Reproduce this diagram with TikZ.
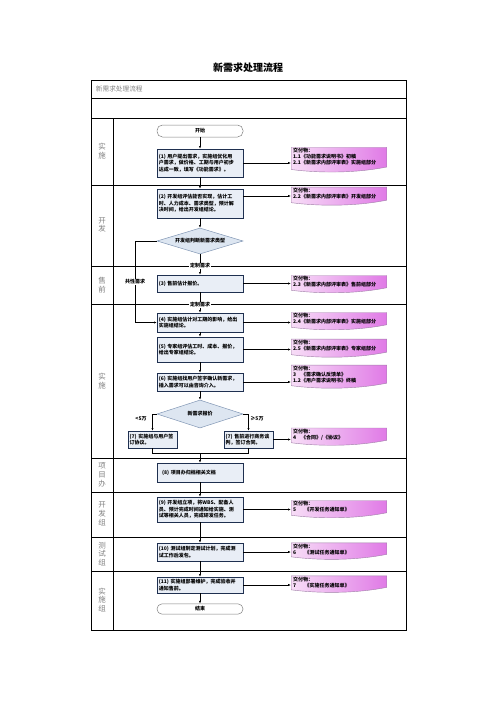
\documentclass[tikz,border=0pt]{standalone}
\usepackage{fontspec}
\setmainfont{Noto Sans CJK SC}
\usetikzlibrary{arrows.meta,shapes.geometric,calc}
\definecolor{boxfill}{HTML}{E9EEF6}
\definecolor{boxdraw}{HTML}{1F3050}
\definecolor{diafill}{HTML}{DDE6F1}
\definecolor{diadraw}{HTML}{8096B4}
\definecolor{delL}{HTML}{F7DDF7}
\definecolor{delR}{HTML}{E07AE6}
\definecolor{delB}{HTML}{A080A8}
\definecolor{lanegray}{HTML}{808080}
\newcommand{\dlv}[2]{\parbox[t][#1][t]{110pt}{\raggedright #2}}
\begin{document}
\begin{tikzpicture}[x=1.2pt,y=-1.2pt,
  proc/.style={draw=boxdraw, fill=boxfill, line width=0.7pt, minimum width=103.2pt,
    text width=99pt, inner sep=1.6pt, align=left, font=\fontsize{6}{7.8}\selectfont\bfseries},
  small/.style={proc, minimum width=58.8pt, text width=55pt},
  term/.style={draw=lanegray, fill=white, line width=0.6pt, rounded corners=6.5pt,
    minimum width=103.2pt, font=\fontsize{6}{7}\selectfont\bfseries},
  dia/.style={diamond, draw=diadraw, fill=diafill, line width=0.6pt, aspect=3.3, inner sep=0pt,
    minimum width=103.2pt, font=\fontsize{6}{7}\selectfont\bfseries},
  deliv/.style={inner xsep=2.6pt, inner ysep=1.5pt, font=\fontsize{6}{7.2}\selectfont\bfseries,
    path picture={
      \path[draw=delB, line width=0.5pt, left color=delL, right color=delR]
        ($(path picture bounding box.north west)+(0.3pt,-0.3pt)$) --
        ($(path picture bounding box.north east)+(-0.3pt,-0.3pt)$) --
        ($(path picture bounding box.south east)+(-0.3pt,6pt)$)
        .. controls +(-40pt,-8pt) and +(30pt,-4pt) ..
        ($(path picture bounding box.south west)+(0.3pt,3pt)$) -- cycle;
    }},
  lane/.style={text=lanegray, align=center, font=\fontsize{9}{10.5}\selectfont},
  lbl/.style={fill=white, inner sep=0.8pt, font=\fontsize{6}{7}\selectfont\bfseries},
  plainlbl/.style={inner sep=0.5pt, font=\fontsize{6}{7}\selectfont\bfseries},
  arr/.style={-{Latex[length=3.2pt,width=2.6pt]}, line width=0.6pt},
  ln/.style={line width=0.6pt}
]
\useasboundingbox (0,0) rectangle (496,702);

% title
\node[font=\fontsize{12}{14}\selectfont\bfseries] (title) at (248,68) {新需求处理流程};

% table frame
\draw[line width=1pt] (91,80) rectangle (406,630);
\draw[ln] (91,98) -- (406,98);
\foreach \yy in {118,185,266,304,458,492,537,571} \draw[ln] (91,\yy) -- (406,\yy);
\draw[ln] (113,118) -- (113,630);
\node[anchor=west, text=lanegray, font=\fontsize{8}{9}\selectfont] (hdr) at (93,89) {新需求处理流程};

% lane labels
\node[lane] (lane1) at (102,151) {实\\施};
\node[lane] (lane2) at (102,225) {开\\发};
\node[lane] (lane3) at (102,285) {售\\前};
\node[lane] (lane4) at (102,381) {实\\施};
\node[lane] (lane5) at (102,475) {项\\目\\办};
\node[lane] (lane6) at (102,514) {开\\发\\组};
\node[lane] (lane7) at (102,554) {测\\试\\组};
\node[lane] (lane8) at (102,600) {实\\施\\组};

% process nodes
\node[term, minimum height=14.4pt] (start) at (200,131) {开始};
\node[proc, minimum height=33.6pt] (b1) at (200,163) {(1) 用户提出需求，实施组优化用\\户需求，做价格、工期与用户初步\\达成一致，填写《功能需求》。};
\node[proc, minimum height=34.8pt] (b2) at (200,203.5) {(2) 开发组评估能否实现，估计工\\时、人力成本、需求类型，预计解\\决时间，给出开发组结论。};
\node[dia, minimum height=31.2pt] (d1) at (200,241) {开发组判断新需求类型};
\node[proc, minimum height=20.4pt] (b3) at (200,283.5) {(3) 售前估计报价。};
\node[proc, minimum height=22.8pt] (b4) at (200,322.5) {(4) 实施组估计对工期的影响，给出\\实施组结论。};
\node[proc, minimum height=30pt] (b5) at (200,349.5) {(5) 专家组评估工时、成本、报价，\\给出专家组结论。};
\node[proc, minimum height=21.6pt] (b6) at (200,382) {(6) 实施组找用户签字确认新需求，\\插入需求可以由咨询介入。};
\node[dia, minimum height=33.6pt] (d2) at (200,414) {新需求报价};
\node[small, minimum height=20.4pt] (b7a) at (152.5,439.5) {(7) 实施组与用户签\\订协议。};
\node[small, minimum height=20.4pt] (b7b) at (248.5,439.5) {(7) 售前进行商务谈\\判，签订合同。};
\node[proc, minimum height=22.8pt] (b8) at (200,472.5) {\hspace{4pt}(8) 项目办归档相关文档};
\node[proc, minimum height=30pt] (b9) at (200,509.5) {(9) 开发组立项，将WBS、配备人\\员、预计完成时间通知给实施、测\\试等相关人员，完成研发任务。};
\node[proc, minimum height=21.6pt] (b10) at (200,552) {(10) 测试组制定测试计划，完成测\\试工作后发包。};
\node[proc, minimum height=19.2pt] (b11) at (200,585) {(11) 实施组部署维护，完成验收并\\通知售前。};
\node[term, minimum height=12pt, rounded corners=6pt] (end) at (200,609) {结束};

% deliverables
\node[deliv] (e1) at (339,159.5) {\dlv{27pt}{交付物：\\1.1《功能需求说明书》初稿\\2.1《新需求内部评审表》实施组部分}};
\node[deliv] (e2) at (339,196) {\dlv{19pt}{交付物：\\2.2《新需求内部评审表》开发组部分}};
\node[deliv] (e3) at (339,284) {\dlv{18pt}{交付物：\\2.3《新需求内部评审表》售前组部分}};
\node[deliv] (e4) at (339,321) {\dlv{18pt}{交付物：\\2.4《新需求内部评审表》实施组部分}};
\node[deliv] (e5) at (339,348) {\dlv{19pt}{交付物：\\2.5《新需求内部评审表》专家组部分}};
\node[deliv] (e6) at (339,376.5) {\dlv{25pt}{交付物：\\3\hspace{6pt}《需求确认反馈单》\\1.2《用户需求说明书》终稿}};
\node[deliv] (e7) at (339,436.5) {\dlv{18pt}{交付物：\\4\hspace{6pt}《合同》/《协议》}};
\node[deliv] (e8) at (339,509) {\dlv{18pt}{交付物：\\5\hspace{10pt}《开发任务通知单》}};
\node[deliv] (e9) at (339,551) {\dlv{17pt}{交付物：\\6\hspace{10pt}《测试任务通知单》}};
\node[deliv] (e10) at (339,584) {\dlv{17pt}{交付物：\\7\hspace{10pt}《实施任务通知单》}};

% main flow connectors
\draw[arr] (start) -- (b1);
\draw[arr] (b1) -- (b2);
\draw[arr] (b2) -- (d1);
\draw[arr] (d1) -- (b3);
\draw[arr] (b3) -- (b4);
\draw[arr] (b4) -- (b5);
\draw[arr] (b5) -- (b6);
\draw[arr] (b6) -- (d2);
\draw[arr] (d2.west) -| (b7a.north);
\draw[arr] (d2.east) -| (b7b.north);
\coordinate (mg) at (200,453);
\draw[ln] (b7a.south) |- (mg);
\draw[ln] (b7b.south) |- (mg);
\draw[arr] (mg) -- (b8.north);
\draw[arr] (b8) -- (b9);
\draw[arr] (b9) -- (b10);
\draw[arr] (b10) -- (b11);
\draw[arr] (b11) -- (end);
\draw[arr] (d1.west) -- ++(-22,0) |- (b4.west);

% deliverable connectors
\draw[arr] (b1.east) -- (b1.east -| e1.west);
\draw[arr] (b2.east |- e2.west) -- (e2.west);
\draw[arr] (b3.east) -- (b3.east -| e3.west);
\draw[arr] (b4.east) -- (b4.east -| e4.west);
\draw[arr] (b5.east) -- (b5.east -| e5.west);
\draw[arr] (b6.east) -- (b6.east -| e6.west);
\draw[arr] (b7b.east) -- (b7b.east -| e7.west);
\draw[arr] (b9.east) -- (b9.east -| e8.west);
\draw[arr] (b10.east) -- (b10.east -| e9.west);
\draw[arr] (b11.east) -- (b11.east -| e10.west);

% labels
\node[lbl] (l1) at (200,266) {定制需求};
\node[lbl] (l2) at (200,305) {定制需求};
\node[lbl] (l3) at (135,282) {共性需求};
\node[plainlbl] (l4) at (141,419) {<5万};
\node[plainlbl] (l5) at (257,419) {≥5万};
\end{tikzpicture}
\end{document}
